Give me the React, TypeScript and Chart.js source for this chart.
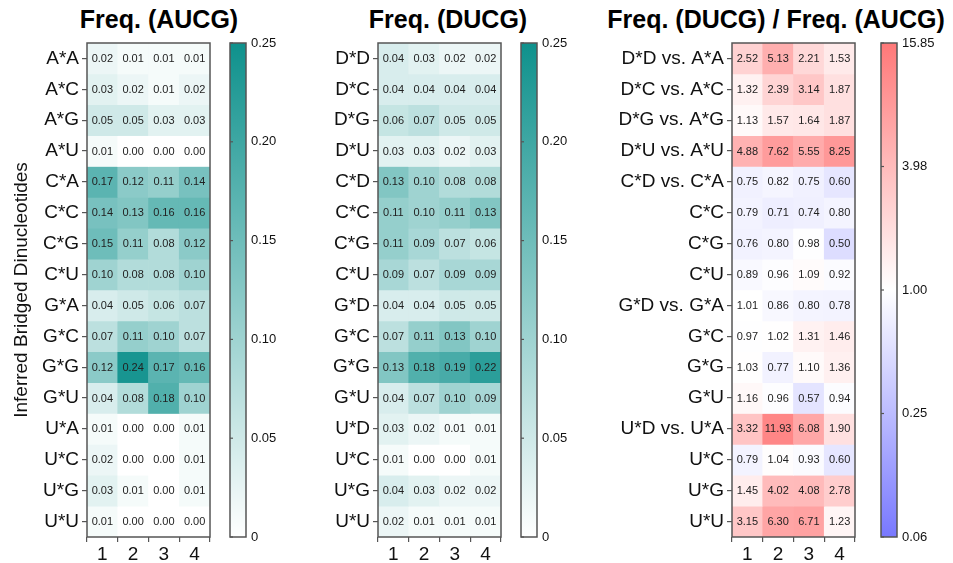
import React, { useEffect, useRef } from "react";
import { Chart, registerables } from "chart.js";

Chart.register(...registerables);

const FONT = '"Liberation Sans", Arial, sans-serif';

const columns = ["1", "2", "3", "4"];

const aucgRows = ["A*A", "A*C", "A*G", "A*U", "C*A", "C*C", "C*G", "C*U", "G*A", "G*C", "G*G", "G*U", "U*A", "U*C", "U*G", "U*U"];
const aucgValues = [
  [0.02, 0.01, 0.01, 0.01],
  [0.03, 0.02, 0.01, 0.02],
  [0.05, 0.05, 0.03, 0.03],
  [0.01, 0.0, 0.0, 0.0],
  [0.17, 0.12, 0.11, 0.14],
  [0.14, 0.13, 0.16, 0.16],
  [0.15, 0.11, 0.08, 0.12],
  [0.1, 0.08, 0.08, 0.1],
  [0.04, 0.05, 0.06, 0.07],
  [0.07, 0.11, 0.1, 0.07],
  [0.12, 0.24, 0.17, 0.16],
  [0.04, 0.08, 0.18, 0.1],
  [0.01, 0.0, 0.0, 0.01],
  [0.02, 0.0, 0.0, 0.01],
  [0.03, 0.01, 0.0, 0.01],
  [0.01, 0.0, 0.0, 0.0],
];

const ducgRows = ["D*D", "D*C", "D*G", "D*U", "C*D", "C*C", "C*G", "C*U", "G*D", "G*C", "G*G", "G*U", "U*D", "U*C", "U*G", "U*U"];
const ducgValues = [
  [0.04, 0.03, 0.02, 0.02],
  [0.04, 0.04, 0.04, 0.04],
  [0.06, 0.07, 0.05, 0.05],
  [0.03, 0.03, 0.02, 0.03],
  [0.13, 0.1, 0.08, 0.08],
  [0.11, 0.1, 0.11, 0.13],
  [0.11, 0.09, 0.07, 0.06],
  [0.09, 0.07, 0.09, 0.09],
  [0.04, 0.04, 0.05, 0.05],
  [0.07, 0.11, 0.13, 0.1],
  [0.13, 0.18, 0.19, 0.22],
  [0.04, 0.07, 0.1, 0.09],
  [0.03, 0.02, 0.01, 0.01],
  [0.01, 0.0, 0.0, 0.01],
  [0.04, 0.03, 0.02, 0.02],
  [0.02, 0.01, 0.01, 0.01],
];

const ratioRows = ["D*D vs. A*A", "D*C vs. A*C", "D*G vs. A*G", "D*U vs. A*U", "C*D vs. C*A", "C*C", "C*G", "C*U", "G*D vs. G*A", "G*C", "G*G", "G*U", "U*D vs. U*A", "U*C", "U*G", "U*U"];
const ratioValues = [
  [2.52, 5.13, 2.21, 1.53],
  [1.32, 2.39, 3.14, 1.87],
  [1.13, 1.57, 1.64, 1.87],
  [4.88, 7.62, 5.55, 8.25],
  [0.75, 0.82, 0.75, 0.6],
  [0.79, 0.71, 0.74, 0.8],
  [0.76, 0.8, 0.98, 0.5],
  [0.89, 0.96, 1.09, 0.92],
  [1.01, 0.86, 0.8, 0.78],
  [0.97, 1.02, 1.31, 1.46],
  [1.03, 0.77, 1.1, 1.36],
  [1.16, 0.96, 0.57, 0.94],
  [3.32, 11.93, 6.08, 1.9],
  [0.79, 1.04, 0.93, 0.6],
  [1.45, 4.02, 4.08, 2.78],
  [3.15, 6.3, 6.71, 1.23],
];

const freqMin = 0;
const freqMax = 0.25;
const freqTickValues = [0, 0.05, 0.1, 0.15, 0.2, 0.25];
const freqTickLabels = ["0", "0.05", "0.10", "0.15", "0.20", "0.25"];

const ratioMin = 0.0631;
const ratioMax = 15.85;
const ratioTickValues = [0.0631, 0.2512, 1.0, 3.981, 15.85];
const ratioTickLabels = ["0.06", "0.25", "1.00", "3.98", "15.85"];

const TEAL = [14, 145, 140];
const RED = [255, 120, 120];
const BLUE = [120, 120, 255];

function mix(c: number[], t: number) {
  const k = Math.max(0, Math.min(1, t));
  const r = Math.round(255 + (c[0] - 255) * k);
  const g = Math.round(255 + (c[1] - 255) * k);
  const b = Math.round(255 + (c[2] - 255) * k);
  return `rgb(${r},${g},${b})`;
}

const freqColor = (v: number) => mix(TEAL, (v - freqMin) / (freqMax - freqMin));
const ratioColor = (v: number) => {
  const t = Math.log10(v) / Math.log10(ratioMax);
  return t >= 0 ? mix(RED, t) : mix(BLUE, -t);
};

const freqStops: [number, string][] = [
  [0, "rgb(255,255,255)"],
  [1, `rgb(${TEAL.join(",")})`],
];
const ratioStops: [number, string][] = [
  [0, `rgb(${BLUE.join(",")})`],
  [0.5, "rgb(255,255,255)"],
  [1, `rgb(${RED.join(",")})`],
];

const H = 563;
const TOP = 43;
const BOTTOM = 537;

const cellLabels = {
  id: "cellLabels",
  afterDatasetsDraw(chart: any) {
    const { ctx } = chart;
    ctx.save();
    ctx.font = `11px ${FONT}`;
    ctx.fillStyle = "#222";
    ctx.textAlign = "center";
    ctx.textBaseline = "middle";
    chart.data.datasets.forEach((ds: any, di: number) => {
      const meta = chart.getDatasetMeta(di);
      meta.data.forEach((bar: any, j: number) => {
        const p = bar.getProps(["x", "y", "base"], true);
        ctx.fillText(ds.cellValues[j].toFixed(2), p.x, (p.y + p.base) / 2 + 0.5);
      });
    });
    ctx.restore();
  },
};

const frame = {
  id: "frame",
  afterDraw(chart: any) {
    const { ctx, chartArea: a } = chart;
    ctx.save();
    ctx.strokeStyle = "#555";
    ctx.lineWidth = 1.5;
    ctx.strokeRect(a.left, a.top, a.right - a.left, a.bottom - a.top);
    const ys = chart.scales.y;
    if (chart.options.plugins.frame && chart.options.plugins.frame.innerTicks) {
      ctx.lineWidth = 1.2;
      ys.ticks.forEach((t: any) => {
        const py = ys.getPixelForValue(t.value);
        ctx.beginPath();
        ctx.moveTo(a.left, py);
        ctx.lineTo(a.left + 3, py);
        ctx.stroke();
      });
    }
    ctx.restore();
  },
};

function Heatmap(props: {
  left: number;
  width: number;
  axisWidth: number;
  rows: string[];
  values: number[][];
  color: (v: number) => string;
  yTitle?: string;
}) {
  const ref = useRef<HTMLCanvasElement>(null);
  useEffect(() => {
    const { rows, values, color, axisWidth, yTitle } = props;
    const datasets = rows.map((r, i) => ({
      label: r,
      data: columns.map(() => 1),
      cellValues: values[i],
      backgroundColor: values[i].map(color),
      borderWidth: 0,
      barPercentage: 1,
      categoryPercentage: 1,
    }));
    const chart = new Chart(ref.current as HTMLCanvasElement, {
      type: "bar",
      data: { labels: columns, datasets: datasets as any },
      options: {
        animation: false,
        responsive: false,
        maintainAspectRatio: false,
        layout: { padding: { top: TOP, right: 5, bottom: 0, left: 0 } },
        plugins: { legend: { display: false }, tooltip: { enabled: false } } as any,
        scales: {
          x: {
            stacked: true,
            grid: { display: true, drawOnChartArea: false, drawTicks: true, tickLength: 5, color: "#555", lineWidth: 1.2 },
            border: { display: false },
            ticks: { font: { family: FONT, size: 19 }, color: "#111", padding: 1 },
            afterFit: (s: any) => {
              s.height = H - BOTTOM;
            },
          },
          y: {
            stacked: true,
            reverse: true,
            min: 0,
            max: rows.length,
            grid: { display: true, drawOnChartArea: false, drawTicks: true, tickLength: 5, color: "#555", lineWidth: 1.2 },
            border: { display: false },
            afterBuildTicks: (s: any) => {
              s.ticks = rows.map((_, i) => ({ value: i + 0.5 }));
            },
            ticks: {
              autoSkip: false,
              font: { family: FONT, size: 19 },
              color: "#111",
              padding: 3,
              callback: (_v: any, i: number) => rows[i],
            },
            title: yTitle
              ? { display: true, text: yTitle, font: { family: FONT, size: 19 }, color: "#111", padding: { top: 10, bottom: 0 } }
              : { display: false },
            afterFit: (s: any) => {
              s.width = axisWidth;
            },
          },
        } as any,
      },
      plugins: [cellLabels, frame],
    });
    return () => chart.destroy();
  }, []);
  return (
    <canvas
      ref={ref}
      width={props.width}
      height={H}
      style={{ position: "absolute", left: props.left, top: 0, width: props.width, height: H }}
    />
  );
}

function ColorBar(props: {
  left: number;
  width: number;
  type: "linear" | "logarithmic";
  min: number;
  max: number;
  tickValues: number[];
  tickLabels: string[];
  stops: [number, string][];
}) {
  const ref = useRef<HTMLCanvasElement>(null);
  useEffect(() => {
    const { type, min, max, tickValues, tickLabels, stops, width } = props;
    const barW = 16;
    const padLeft = 5;
    const chart = new Chart(ref.current as HTMLCanvasElement, {
      type: "bar",
      data: {
        labels: [""],
        datasets: [
          {
            data: [[min, max]] as any,
            borderWidth: 0,
            barPercentage: 1,
            categoryPercentage: 1,
            backgroundColor: (c: any) => {
              const a = c.chart.chartArea;
              if (!a) return "#fff";
              const g = c.chart.ctx.createLinearGradient(0, a.bottom, 0, a.top);
              stops.forEach(([o, col]) => g.addColorStop(o, col));
              return g;
            },
          },
        ],
      },
      options: {
        animation: false,
        responsive: false,
        maintainAspectRatio: false,
        layout: { padding: { top: TOP, right: 0, bottom: H - BOTTOM, left: padLeft } },
        plugins: { legend: { display: false }, tooltip: { enabled: false }, frame: { innerTicks: true } } as any,
        scales: {
          x: { display: false },
          y: {
            type,
            position: "right",
            min,
            max,
            grid: { display: false, drawTicks: false },
            border: { display: false },
            afterBuildTicks: (s: any) => {
              s.ticks = tickValues.map((v) => ({ value: v }));
            },
            ticks: {
              autoSkip: false,
              font: { family: FONT, size: 13 },
              color: "#111",
              padding: 5,
              callback: (_v: any, i: number) => tickLabels[i],
            },
            afterFit: (s: any) => {
              s.width = width - padLeft - barW;
            },
          },
        } as any,
      },
      plugins: [frame],
    });
    return () => chart.destroy();
  }, []);
  return (
    <canvas
      ref={ref}
      width={props.width}
      height={H}
      style={{ position: "absolute", left: props.left, top: 0, width: props.width, height: H }}
    />
  );
}

function Title(props: { center: number; text: string }) {
  return (
    <div
      style={{
        position: "absolute",
        left: props.center - 200,
        width: 400,
        top: 4,
        textAlign: "center",
        fontFamily: FONT,
        fontWeight: "bold",
        fontSize: 25,
        lineHeight: "30px",
        color: "#000",
        whiteSpace: "nowrap",
      }}
    >
      {props.text}
    </div>
  );
}

export default function App() {
  return (
    <div style={{ position: "absolute", left: 0, top: 0, width: 953, height: H, background: "#fff", overflow: "hidden" }}>
      <Title center={159} text="Freq. (AUCG)" />
      <Title center={448} text="Freq. (DUCG)" />
      <Title center={776} text="Freq. (DUCG) / Freq. (AUCG)" />
      <Heatmap left={0} width={215} axisWidth={87} rows={aucgRows} values={aucgValues} color={freqColor} yTitle="Inferred Bridged Dinucleotides" />
      <ColorBar left={225} width={65} type="linear" min={freqMin} max={freqMax} tickValues={freqTickValues} tickLabels={freqTickLabels} stops={freqStops} />
      <Heatmap left={300} width={206} axisWidth={78} rows={ducgRows} values={ducgValues} color={freqColor} />
      <ColorBar left={516} width={65} type="linear" min={freqMin} max={freqMax} tickValues={freqTickValues} tickLabels={freqTickLabels} stops={freqStops} />
      <Heatmap left={600} width={260} axisWidth={132} rows={ratioRows} values={ratioValues} color={ratioColor} />
      <ColorBar left={876} width={77} type="logarithmic" min={ratioMin} max={ratioMax} tickValues={ratioTickValues} tickLabels={ratioTickLabels} stops={ratioStops} />
    </div>
  );
}
